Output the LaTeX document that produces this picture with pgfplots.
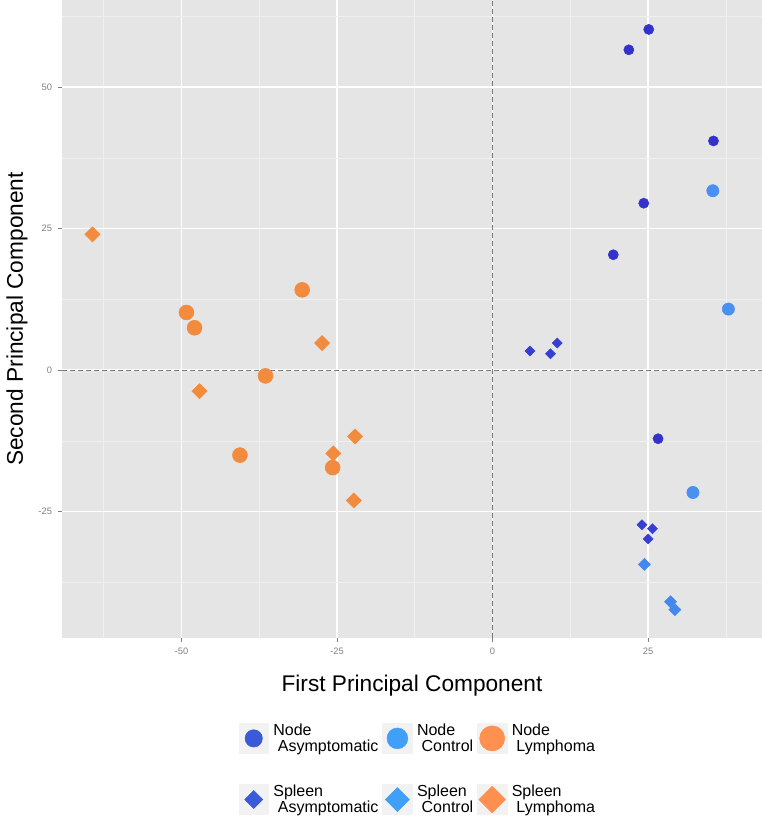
\documentclass[border=0pt]{standalone}
\usepackage{pgfplots}
\pgfplotsset{compat=1.18}
\usepackage{fontspec}
\setmainfont{Liberation Sans}

\definecolor{panel}{HTML}{E5E5E5}
\definecolor{minorg}{HTML}{F0F0F0}
\definecolor{tickgray}{HTML}{808080}
\definecolor{dashgray}{HTML}{787878}
\definecolor{keybg}{HTML}{F2F2F2}
\definecolor{nasym}{HTML}{3333CC}
\definecolor{nctrl}{HTML}{4A90F0}
\definecolor{lymph}{HTML}{F28B3D}
\definecolor{sasym}{HTML}{3640D0}
\definecolor{sctrl}{HTML}{4488EE}
\definecolor{asymL}{HTML}{3A5BD9}
\definecolor{ctrlL}{HTML}{40A0F8}
\definecolor{lymphL}{HTML}{FF9050}

% legend keys: grey box with a big marker
\newcommand{\keybox}{\fill[keybg] (0pt,-11.25pt) rectangle (22pt,11.25pt);}
\newcommand{\keydot}[2]{\keybox\fill[#1] (11pt,0pt) circle (#2);}
\newcommand{\keydia}[2]{\keybox\fill[#1] (11pt,#2) -- ++(#2,-#2) -- ++(-#2,-#2) -- ++(-#2,#2) -- cycle;}

\begin{document}
\begin{tikzpicture}
\begin{axis}[
    at={(0,0)}, anchor=south west,
    scale only axis,
    width=525pt, height=478.5pt,
    xmin=-69.2, xmax=43.3,
    ymin=-47.3, ymax=65.4,
    axis background/.style={fill=panel},
    axis line style={draw=none},
    xtick={-50,-25,0,25}, xticklabels={-50,-25,0,25},
    ytick={-25,0,25,50}, yticklabels={-25,0,25,50},
    minor xtick={-62.5,-37.5,-12.5,12.5,37.5},
    minor ytick={-37.5,-12.5,12.5,37.5,62.5},
    grid=both,
    major grid style={white, line width=1.1pt},
    minor grid style={minorg, line width=0.55pt},
    tick align=outside, xtick pos=lower, ytick pos=left,
    major tick length=3pt, minor tick length=0pt,
    major tick style={tickgray, line width=0.6pt},
    ticklabel style={font=\fontsize{7}{8}\selectfont, text=tickgray},
    xticklabel style={yshift=-1pt},
    yticklabel style={xshift=-1pt},
    xlabel={First Principal Component},
    ylabel={Second Principal Component},
    label style={font=\fontsize{17}{20}\selectfont},
    xlabel style={at={(axis description cs:0.5,-0.0752)}, anchor=center},
    ylabel style={at={(axis description cs:-0.0643,0.5)}, anchor=center},
    legend columns=3,
    legend cell align=left,
    legend style={at={(axis description cs:0.507,-0.133)}, anchor=north,
        draw=none, fill=none, inner sep=0pt,
        row sep=23pt,
        nodes={align=left, inner sep=0pt, font=\fontsize{12}{12}\selectfont},
        /tikz/every odd column/.append style={column sep=3.5pt},
        /tikz/every even column/.append style={column sep=3pt}},
]
% reference lines at zero
\addplot[forget plot, dashgray, line width=0.9pt, dash pattern=on 3.5pt off 2.5pt]
    coordinates {(-69.2,0) (43.3,0)};
\addplot[forget plot, dashgray, line width=0.9pt, dash pattern=on 3.5pt off 2.5pt]
    coordinates {(0,-47.3) (0,65.4)};

\addplot[only marks, mark=*, mark size=3.8pt, color=nasym, mark options={draw=none, fill=nasym},
    legend image code/.code={\keydot{asymL}{6.5pt}}]
    coordinates {(21.9,56.6) (25.1,60.2) (35.5,40.5) (24.3,29.5) (19.4,20.4) (26.6,-12.1)};
\addlegendentry{Node\\\hspace{3.5pt}Asymptomatic}

\addplot[only marks, mark=*, mark size=4.6pt, color=nctrl, mark options={draw=none, fill=nctrl},
    legend image code/.code={\keydot{ctrlL}{7.8pt}}]
    coordinates {(35.4,31.7) (37.9,10.8) (32.2,-21.6)};
\addlegendentry{Node\\\hspace{3.5pt}Control}

\addplot[only marks, mark=*, mark size=5.6pt, color=lymph, mark options={draw=none, fill=lymph},
    legend image code/.code={\keydot{lymphL}{9.4pt}}]
    coordinates {(-30.6,14.2) (-49.2,10.2) (-47.9,7.5) (-36.5,-1.0) (-40.6,-15.0) (-25.7,-17.2)};
\addlegendentry{Node\\\hspace{3.5pt}Lymphoma}

\addplot[only marks, mark=square*, mark size=2.65pt, color=sasym,
    mark options={rotate=45, draw=none, fill=sasym},
    legend image code/.code={\keydia{asymL}{6.75pt}}]
    coordinates {(6.0,3.4) (9.3,2.9) (10.4,4.8) (24.0,-27.3) (25.7,-28.0) (25.0,-29.8)};
\addlegendentry{Spleen\\\hspace{3.5pt}Asymptomatic}

\addplot[only marks, mark=square*, mark size=3.2pt, color=sctrl,
    mark options={rotate=45, draw=none, fill=sctrl},
    legend image code/.code={\keydia{ctrlL}{9pt}}]
    coordinates {(24.4,-34.3) (28.6,-40.9) (29.3,-42.3)};
\addlegendentry{Spleen\\\hspace{3.5pt}Control}

\addplot[only marks, mark=square*, mark size=4pt, color=lymph,
    mark options={rotate=45, draw=none, fill=lymph},
    legend image code/.code={\keydia{lymphL}{10pt}}]
    coordinates {(-64.3,24.0) (-27.4,4.8) (-47.1,-3.7) (-22.1,-11.7) (-25.6,-14.7) (-22.3,-23.0)};
\addlegendentry{Spleen\\\hspace{3.5pt}Lymphoma}
\end{axis}
\pgfresetboundingbox
\path (-46.5pt,-138.75pt) rectangle (525pt,478.5pt);
\end{tikzpicture}
\end{document}
